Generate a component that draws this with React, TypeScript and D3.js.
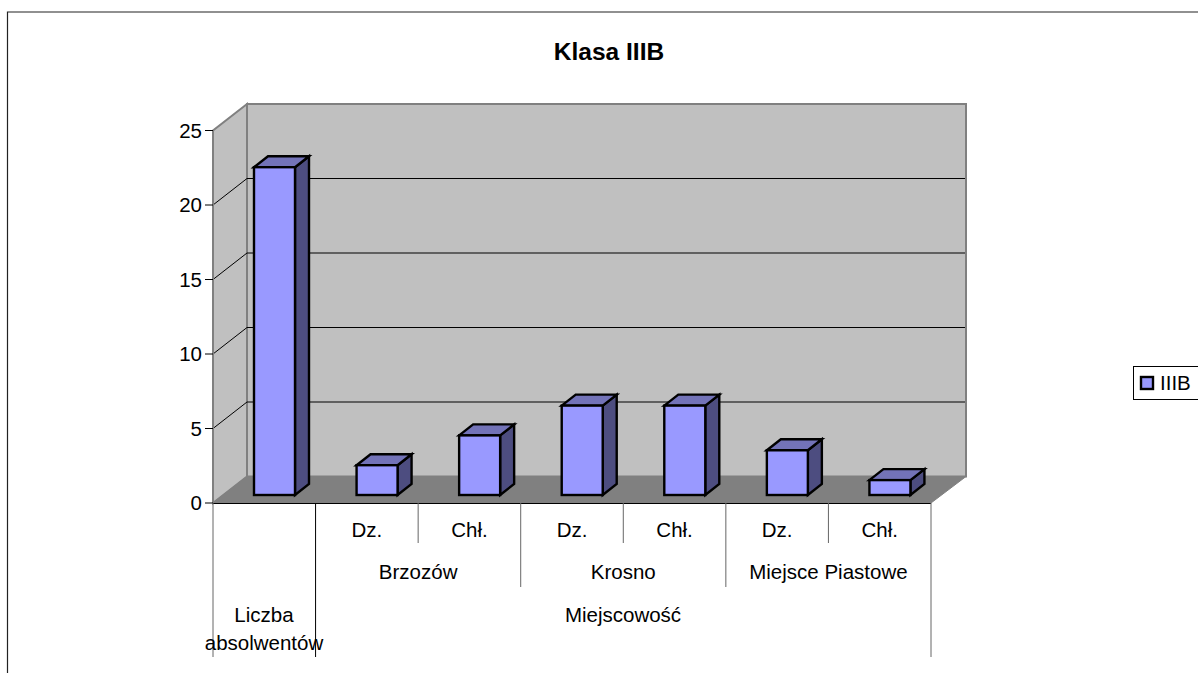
import React from "react";
import * as d3 from "d3";

const categories = ["Liczba absolwentów", "Brzozów Dz.", "Brzozów Chł.", "Krosno Dz.", "Krosno Chł.", "Miejsce Piastowe Dz.", "Miejsce Piastowe Chł."];
const values = [22, 2, 4, 6, 6, 3, 1];
const yTicks = [0, 5, 10, 15, 20, 25];
const level1 = ["", "Dz.", "Chł.", "Dz.", "Chł.", "Dz.", "Chł."];
const level2 = [{ label: "Brzozów", from: 1, to: 3 }, { label: "Krosno", from: 3, to: 5 }, { label: "Miejsce Piastowe", from: 5, to: 7 }];
const seriesName = "IIIB";
const title = "Klasa IIIB";

const DX = 34, DY = 26.5;
const FONT = "'Liberation Sans', Arial, sans-serif";

export default function App() {
  const x = d3.scaleBand<number>().domain(d3.range(categories.length)).range([213, 931]).paddingInner(0).paddingOuter(0);
  const y = d3.scaleLinear().domain([0, 25]).range([503, 130.5]);
  const step = x.step();
  const barW = 41, bx = 41, base = 8, dDx = 14, dDy = 11;
  const edges = d3.range(8).map(i => 213 + i * step);
  const fs = 20.5;
  const poly = (p: number[][]) => p.map(q => q.join(",")).join(" ");
  return (
    <svg width={1198} height={673} style={{ position: "absolute", left: 0, top: 0, display: "block" }} fontFamily={FONT}>
      <rect width={1198} height={673} fill="#fff" />
      <path d="M1198,12 H7.5 V673" fill="none" stroke="#222" strokeWidth={1.2} />
      <text x={609} y={60} textAnchor="middle" fontSize={24.5} fontWeight="bold">{title}</text>

      {/* walls */}
      <polygon points={poly([[213, y(0)], [213 + DX, y(0) - DY], [213 + DX, y(25) - DY], [213, y(25)]])} fill="#c0c0c0" stroke="#808080" strokeWidth={2} />
      <polygon points={poly([[213 + DX, y(0) - DY], [931 + DX + 1, y(0) - DY], [931 + DX + 1, y(25) - DY], [213 + DX, y(25) - DY]])} fill="#c0c0c0" stroke="#808080" strokeWidth={2} />
      <polygon points={poly([[213, y(0)], [213 + DX, y(0) - DY], [931 + DX + 1, y(0) - DY], [931, y(0)]])} fill="#808080" stroke="#808080" strokeWidth={1} />
      {/* gridlines */}
      {yTicks.filter(t => t > 0 && t < 25).map(t => (
        <polyline key={t} points={poly([[213, y(t)], [213 + DX, y(t) - DY], [931 + DX, y(t) - DY]])} fill="none" stroke="#000" strokeWidth={1} />
      ))}
      {/* axis */}
      <line x1={213} x2={213} y1={y(25)} y2={y(0)} stroke="#808080" strokeWidth={2} />
      <line x1={213} x2={931} y1={y(0) + 0.5} y2={y(0) + 0.5} stroke="#000" strokeWidth={1} />
      {yTicks.map(t => (
        <g key={t}>
          <line x1={205} x2={213} y1={y(t)} y2={y(t)} stroke="#000" />
          <text x={202} y={y(t) + 7} textAnchor="end" fontSize={fs}>{t}</text>
        </g>
      ))}
      {/* bars */}
      {values.map((v, i) => {
        const x0 = x(i)! + bx, x1 = x0 + barW;
        const b = y(0) - base, t = y(v) - base;
        return (
          <g key={i} stroke="#000" strokeWidth={2.4} strokeLinejoin="miter">
            <polygon points={poly([[x1, t], [x1 + dDx, t - dDy], [x1 + dDx, b - dDy], [x1, b]])} fill="#4d4d80" />
            <polygon points={poly([[x0, t], [x0 + dDx, t - dDy], [x1 + dDx, t - dDy], [x1, t]])} fill="#7373b8" />
            <rect x={x0} y={t} width={barW} height={b - t} fill="#9999ff" />
          </g>
        );
      })}
      {/* multi-level category axis */}
      {edges.map((e, i) => {
        const bottom = i === 0 || i === 1 || i === 7 ? 657 : i % 2 === 1 ? 587 : 543;
        return <line key={i} x1={e} x2={e} y1={y(0)} y2={bottom} stroke={i === 1 ? "#000" : "#666"} strokeWidth={1} />;
      })}
      {level1.map((l, i) => (
        <text key={i} x={x(i)! + step / 2} y={537} textAnchor="middle" fontSize={fs}>{l}</text>
      ))}
      {level2.map(g => (
        <text key={g.label} x={(edges[g.from] + edges[g.to]) / 2} y={579} textAnchor="middle" fontSize={fs}>{g.label}</text>
      ))}
      <text x={264} y={622} textAnchor="middle" fontSize={fs}>Liczba</text>
      <text x={264} y={650} textAnchor="middle" fontSize={fs}>absolwentów</text>
      <text x={623} y={622} textAnchor="middle" fontSize={fs}>Miejscowość</text>
      {/* legend */}
      <rect x={1133.5} y={366.5} width={70} height={33} fill="#fff" stroke="#000" />
      <rect x={1141} y={377} width={12} height={12} fill="#9999ff" stroke="#000" strokeWidth={2.4} />
      <text x={1160} y={390} fontSize={fs}>{seriesName}</text>
    </svg>
  );
}
